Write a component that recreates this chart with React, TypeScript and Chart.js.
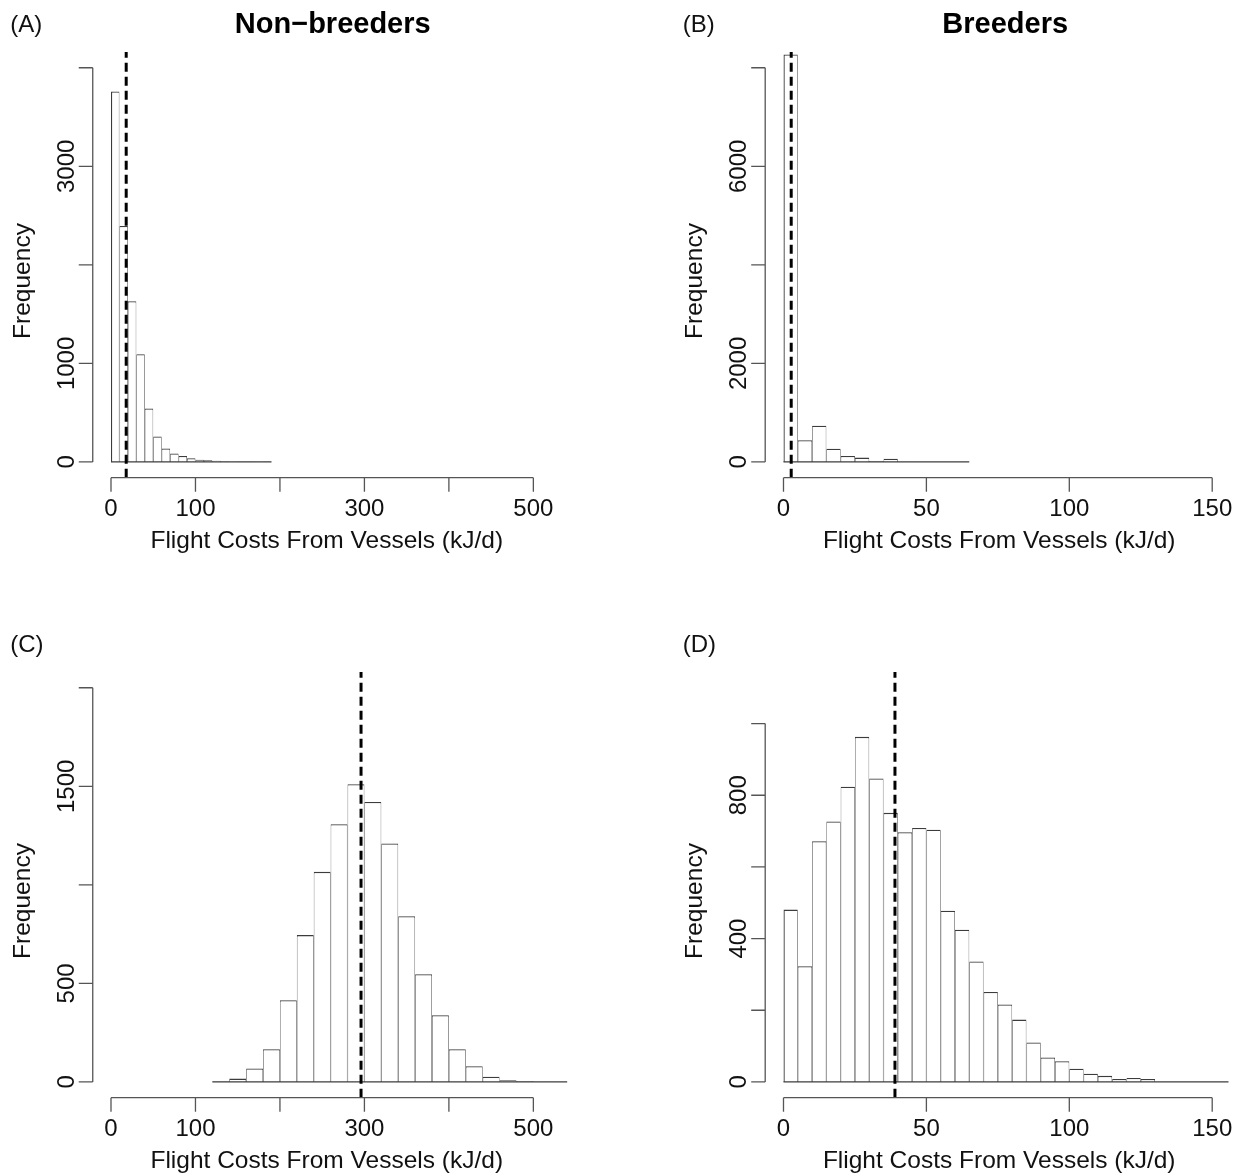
import React, { useEffect, useRef } from "react";
import { Chart, registerables } from "chart.js";

Chart.register(...registerables);

// ---------------- data ----------------
// (A) Non-breeders: histogram, bins of 10 kJ/d starting at 0
const aBreakStart = 0;
const aBinWidth = 10;
const aCounts = [3760, 2395, 1630, 1093, 543, 258, 136, 85, 61, 37, 22, 16, 12, 4, 2, 1, 1, 0, 1];
const aMean = 18;
const aXLimits = [-21.6, 561.6];
const aYLimits = [-160, 4160];
const aXTicks = [0, 100, 200, 300, 400, 500];
const aXTickLabels = ["0", "100", "", "300", "", "500"];
const aYTicks = [0, 1000, 2000, 3000, 4000];
const aYTickLabels = ["0", "1000", "", "3000", ""];

// (B) Breeders: bins of 5 kJ/d starting at 0
const bBreakStart = 0;
const bBinWidth = 5;
const bCounts = [8270, 440, 735, 270, 120, 88, 20, 65, 3, 1, 1, 0, 1];
const bMean = 2.7;
const bXLimits = [-6.4, 155.7];
const bYLimits = [-320, 8320];
const bXTicks = [0, 50, 100, 150];
const bXTickLabels = ["0", "50", "100", "150"];
const bYTicks = [0, 2000, 4000, 6000, 8000];
const bYTickLabels = ["0", "2000", "", "6000", ""];

// (C) Non-breeders: bins of 20 kJ/d starting at 120
const cBreakStart = 120;
const cBinWidth = 20;
const cCounts = [2, 17, 68, 166, 415, 745, 1066, 1308, 1511, 1421, 1210, 841, 547, 338, 166, 80, 26, 8, 5, 0, 1];
const cMean = 296;
const cXLimits = [-21.6, 561.6];
const cYLimits = [-80, 2080];
const cXTicks = [0, 100, 200, 300, 400, 500];
const cXTickLabels = ["0", "100", "", "300", "", "500"];
const cYTicks = [0, 500, 1000, 1500, 2000];
const cYTickLabels = ["0", "500", "", "1500", ""];

// (D) Breeders: bins of 5 kJ/d starting at 0
const dBreakStart = 0;
const dBinWidth = 5;
const dCounts = [481, 323, 672, 727, 824, 963, 847, 751, 697, 709, 704, 478, 425, 336, 251, 216, 174, 110, 68, 58, 37, 23, 17, 8, 11, 8, 0, 0, 0, 0, 0, 0];
const dMean = 39;
const dXLimits = [-6.4, 155.7];
const dYLimits = [-44, 1144];
const dXTicks = [0, 50, 100, 150];
const dXTickLabels = ["0", "50", "100", "150"];
const dYTicks = [0, 200, 400, 600, 800, 1000];
const dYTickLabels = ["0", "", "400", "", "800", ""];

const panelLabels = ["(A)", "(B)", "(C)", "(D)"];
const panelTitles = ["Non−breeders", "Breeders", "", ""];
const xTitle = "Flight Costs From Vessels (kJ/d)";
const yTitle = "Frequency";

// ---------------- styling / layout ----------------
const FONT = '"Liberation Sans", Arial, Helvetica, sans-serif';
const TEXT = "#111";
const AXIS = "#555";
const BAR_EDGE = "#3c3c3c";
const TICK_LEN = 14;

type PanelDef = {
  label: string;
  title: string;
  breakStart: number;
  binWidth: number;
  counts: number[];
  mean: number;
  xLim: number[];
  yLim: number[];
  xTicks: number[];
  xTickLabels: string[];
  yTicks: number[];
  yTickLabels: string[];
  box: { left: number; top: number; width: number; height: number };
  pad: { left: number; right: number; top: number; bottom: number };
};

const panels: PanelDef[] = [
  {
    label: panelLabels[0], title: panelTitles[0],
    breakStart: aBreakStart, binWidth: aBinWidth, counts: aCounts, mean: aMean,
    xLim: aXLimits, yLim: aYLimits, xTicks: aXTicks, xTickLabels: aXTickLabels,
    yTicks: aYTicks, yTickLabels: aYTickLabels,
    box: { left: 0, top: 0, width: 620, height: 588 },
    pad: { left: 92.75, right: 34.6, top: 52, bottom: 110.3 },
  },
  {
    label: panelLabels[1], title: panelTitles[1],
    breakStart: bBreakStart, binWidth: bBinWidth, counts: bCounts, mean: bMean,
    xLim: bXLimits, yLim: bYLimits, xTicks: bXTicks, xTickLabels: bXTickLabels,
    yTicks: bYTicks, yTickLabels: bYTickLabels,
    box: { left: 620, top: 0, width: 621, height: 588 },
    pad: { left: 145.2, right: 12.5, top: 52, bottom: 110.3 },
  },
  {
    label: panelLabels[2], title: panelTitles[2],
    breakStart: cBreakStart, binWidth: cBinWidth, counts: cCounts, mean: cMean,
    xLim: cXLimits, yLim: cYLimits, xTicks: cXTicks, xTickLabels: cXTickLabels,
    yTicks: cYTicks, yTickLabels: cYTickLabels,
    box: { left: 0, top: 588, width: 620, height: 588 },
    pad: { left: 92.75, right: 34.6, top: 84, bottom: 78.3 },
  },
  {
    label: panelLabels[3], title: panelTitles[3],
    breakStart: dBreakStart, binWidth: dBinWidth, counts: dCounts, mean: dMean,
    xLim: dXLimits, yLim: dYLimits, xTicks: dXTicks, xTickLabels: dXTickLabels,
    yTicks: dYTicks, yTickLabels: dYTickLabels,
    box: { left: 620, top: 588, width: 621, height: 588 },
    pad: { left: 145.2, right: 12.5, top: 84, bottom: 78.3 },
  },
];

function makeAxesPlugin(p: PanelDef) {
  return {
    id: "rStyleAxes",
    afterDraw(chart: any) {
      const ctx: CanvasRenderingContext2D = chart.ctx;
      const area = chart.chartArea;
      const xs = chart.scales.x;
      const ys = chart.scales.y;
      ctx.save();
      ctx.strokeStyle = AXIS;
      ctx.lineWidth = 1.3;

      // x axis (segment from first to last tick)
      const axY = area.bottom;
      const x0 = xs.getPixelForValue(p.xTicks[0]);
      const x1 = xs.getPixelForValue(p.xTicks[p.xTicks.length - 1]);
      ctx.beginPath();
      ctx.moveTo(x0, axY);
      ctx.lineTo(x1, axY);
      p.xTicks.forEach((v) => {
        const px = xs.getPixelForValue(v);
        ctx.moveTo(px, axY);
        ctx.lineTo(px, axY + TICK_LEN);
      });
      ctx.stroke();

      // y axis
      const axX = area.left;
      const y0 = ys.getPixelForValue(p.yTicks[0]);
      const y1 = ys.getPixelForValue(p.yTicks[p.yTicks.length - 1]);
      ctx.beginPath();
      ctx.moveTo(axX, y0);
      ctx.lineTo(axX, y1);
      p.yTicks.forEach((v) => {
        const py = ys.getPixelForValue(v);
        ctx.moveTo(axX, py);
        ctx.lineTo(axX - TICK_LEN, py);
      });
      ctx.stroke();

      ctx.fillStyle = TEXT;
      // x tick labels
      ctx.font = `24px ${FONT}`;
      ctx.textAlign = "center";
      ctx.textBaseline = "alphabetic";
      p.xTicks.forEach((v, i) => {
        const t = p.xTickLabels[i];
        if (t) ctx.fillText(t, xs.getPixelForValue(v), axY + 38);
      });

      // y tick labels (rotated)
      p.yTicks.forEach((v, i) => {
        const t = p.yTickLabels[i];
        if (!t) return;
        ctx.save();
        ctx.translate(axX - 19, ys.getPixelForValue(v));
        ctx.rotate(-Math.PI / 2);
        ctx.fillText(t, 0, 0);
        ctx.restore();
      });

      // axis titles
      ctx.font = `24.5px ${FONT}`;
      ctx.fillText(xTitle, area.left + 234, axY + 70);
      ctx.save();
      ctx.translate(axX - 63, area.top + 229);
      ctx.rotate(-Math.PI / 2);
      ctx.fillText(yTitle, 0, 0);
      ctx.restore();

      // panel label
      ctx.textAlign = "left";
      ctx.font = `24px ${FONT}`;
      ctx.fillText(p.label, area.left - 82.5, area.top - 20);

      // title
      if (p.title) {
        ctx.textAlign = "center";
        ctx.font = `bold 29px ${FONT}`;
        ctx.fillStyle = "#000";
        ctx.fillText(p.title, area.left + 240, area.top - 19);
      }
      ctx.restore();
    },
  };
}

function Panel({ p }: { p: PanelDef }) {
  const ref = useRef<HTMLCanvasElement | null>(null);
  useEffect(() => {
    const canvas = ref.current;
    if (!canvas) return;
    const last = p.counts.length - 1;
    const barData = p.counts.map((c, i) => ({
      x: p.breakStart + (i + 0.5) * p.binWidth,
      y: c,
    }));
    const breakEnd = p.breakStart + p.counts.length * p.binWidth;
    const chart = new Chart(canvas, {
      type: "bar",
      data: {
        datasets: [
          {
            type: "line",
            label: "mean",
            data: [
              { x: p.mean, y: p.yLim[0] },
              { x: p.mean, y: p.yLim[1] },
            ],
            borderColor: "#000",
            borderWidth: 3,
            borderDash: [9, 5],
            pointRadius: 0,
            fill: false,
            order: 0,
          } as any,
          {
            type: "line",
            label: "baseline",
            data: [
              { x: p.breakStart, y: 0 },
              { x: breakEnd, y: 0 },
            ],
            borderColor: BAR_EDGE,
            borderWidth: 1.3,
            pointRadius: 0,
            fill: false,
            order: 1,
          } as any,
          {
            type: "bar",
            label: "Frequency",
            data: barData,
            backgroundColor: "#ffffff",
            borderColor: BAR_EDGE,
            borderWidth: (c: any) => ({
              top: 1.3,
              left: c.dataIndex === 0 ? 1.3 : 0.7,
              right: c.dataIndex === last ? 1.3 : 0.7,
              bottom: 0,
            }),
            borderSkipped: false,
            barPercentage: 1,
            categoryPercentage: 1,
            inflateAmount: 0,
            order: 2,
          } as any,
        ],
      },
      options: {
        responsive: false,
        animation: false,
        devicePixelRatio: 1,
        events: [],
        layout: { padding: p.pad },
        plugins: {
          legend: { display: false },
          tooltip: { enabled: false },
          title: { display: false },
        },
        scales: {
          x: {
            type: "linear",
            display: false,
            min: p.xLim[0],
            max: p.xLim[1],
            offset: false,
            afterBuildTicks: (s: any) => {
              s.ticks = p.xTicks.map((v) => ({ value: v }));
            },
          },
          y: {
            type: "linear",
            display: false,
            min: p.yLim[0],
            max: p.yLim[1],
            afterBuildTicks: (s: any) => {
              s.ticks = p.yTicks.map((v) => ({ value: v }));
            },
          },
        },
      } as any,
      plugins: [makeAxesPlugin(p)],
    });
    return () => chart.destroy();
  }, [p]);
  return (
    <canvas
      ref={ref}
      width={p.box.width}
      height={p.box.height}
      style={{
        position: "absolute",
        left: p.box.left,
        top: p.box.top,
        width: p.box.width,
        height: p.box.height,
      }}
    />
  );
}

export default function App() {
  return (
    <div
      style={{
        position: "absolute",
        left: 0,
        top: 0,
        width: 1241,
        height: 1176,
        background: "#fff",
      }}
    >
      {panels.map((p, i) => (
        <Panel key={i} p={p} />
      ))}
    </div>
  );
}
